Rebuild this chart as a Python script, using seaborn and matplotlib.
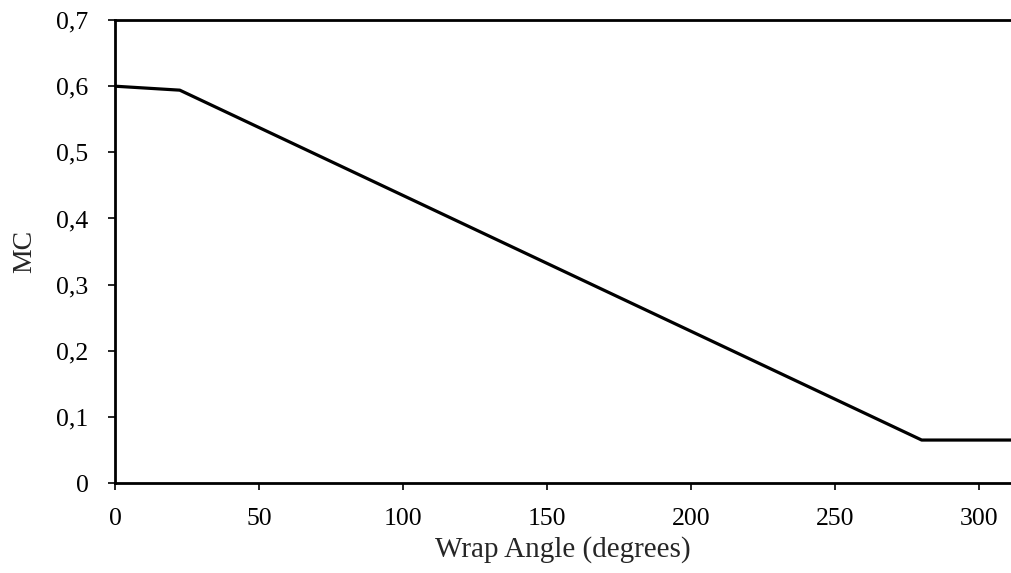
import numpy as np
import pandas as pd
import matplotlib
matplotlib.use('Agg')
import matplotlib.pyplot as plt
import seaborn as sns
from matplotlib.ticker import FuncFormatter

# values
wrap_angle = [0, 22.5, 280, 311]
mc = [0.600, 0.594, 0.065, 0.065]
x_ticks = [0, 50, 100, 150, 200, 250, 300]
y_ticks = [0, 0.1, 0.2, 0.3, 0.4, 0.5, 0.6, 0.7]

df = pd.DataFrame({'angle': wrap_angle, 'mc': mc})

sns.set_style('white')
plt.rcParams['font.family'] = ['Liberation Serif', 'DejaVu Serif']

fig = plt.figure(figsize=(10.11, 5.73), dpi=100)
ax = fig.add_axes([0.1137, 0.157, 0.8863, 0.808])

sns.lineplot(data=df, x='angle', y='mc', color='black', linewidth=2.3, ax=ax)

ax.set_xlim(0, 311)
ax.set_ylim(0, 0.7)
ax.set_xticks(x_ticks)
ax.set_yticks(y_ticks)

def comma_fmt(v, pos):
    if abs(v) < 1e-9:
        return '0'
    return ('%.1f' % v).replace('.', ',')

ax.yaxis.set_major_formatter(FuncFormatter(comma_fmt))
ax.tick_params(axis='both', direction='out', length=5, width=1.2, colors='black',
               labelsize=18.5, bottom=True, left=True)
ax.tick_params(axis='y', pad=14)
ax.tick_params(axis='x', pad=13)

for side in ['left', 'bottom', 'top']:
    ax.spines[side].set_visible(True)
    ax.spines[side].set_color('black')
    ax.spines[side].set_linewidth(2)
ax.spines['right'].set_visible(False)

ax.set_xlabel('Wrap Angle (degrees)', fontsize=21, labelpad=4)
ax.set_ylabel('MC', fontsize=20, labelpad=14)

fig.savefig('out.png', dpi=100)
